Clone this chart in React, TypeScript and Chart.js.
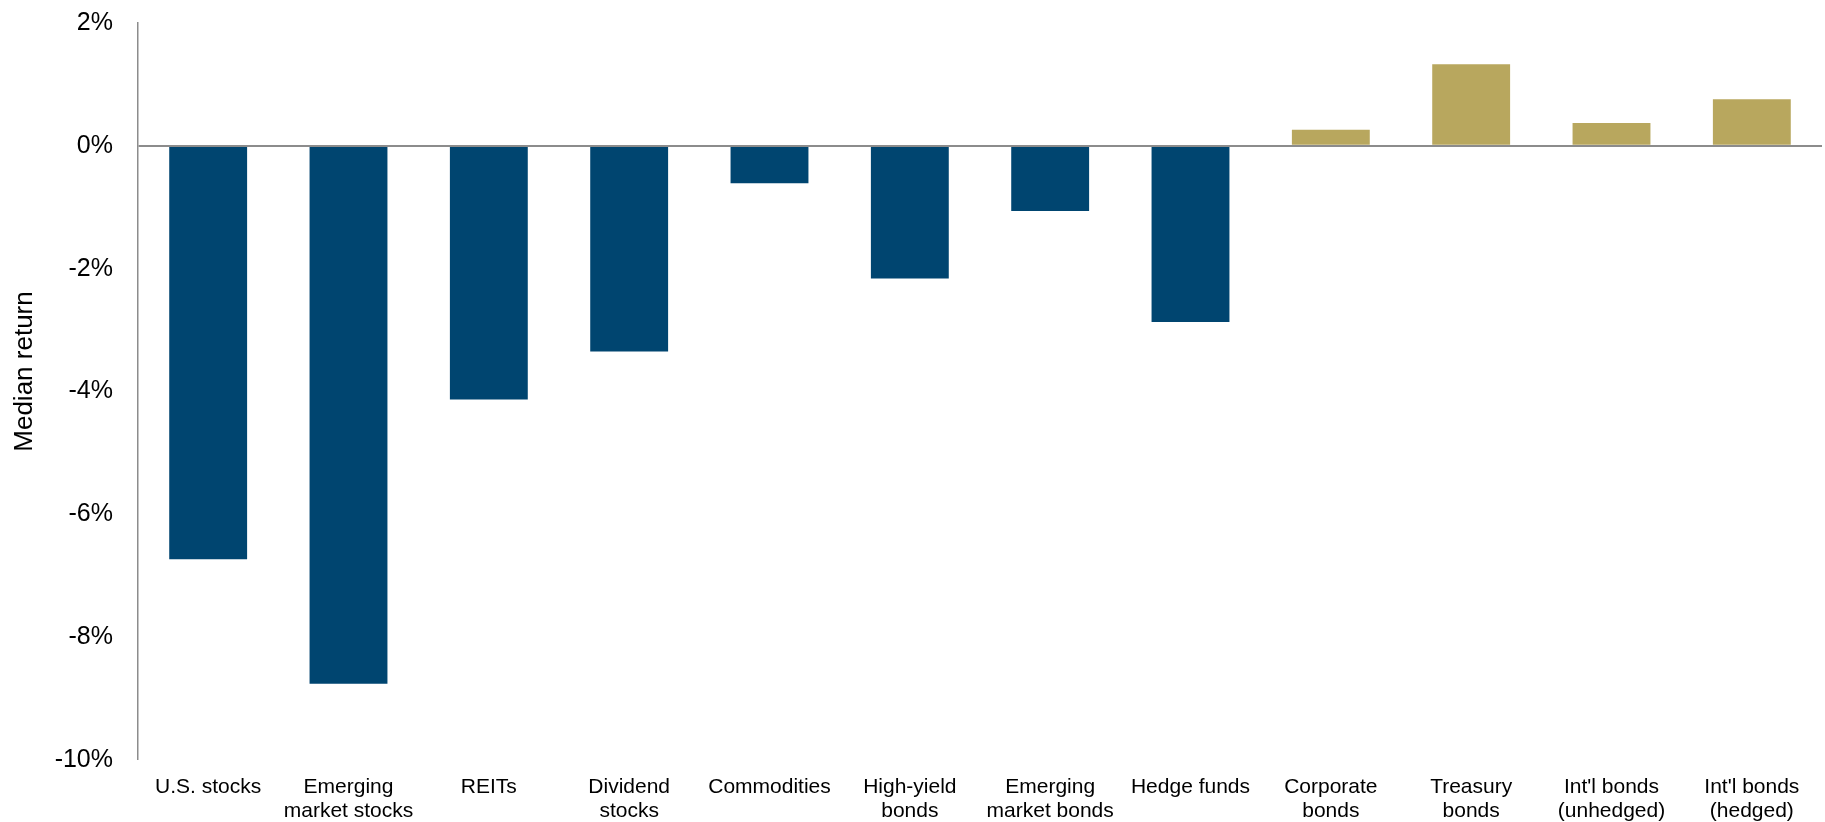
import React, { useEffect, useRef } from "react";
import { Chart, registerables } from "chart.js";

Chart.register(...registerables);

const categories: (string | string[])[] = [
  "U.S. stocks",
  ["Emerging", "market stocks"],
  "REITs",
  ["Dividend", "stocks"],
  "Commodities",
  ["High-yield", "bonds"],
  ["Emerging", "market bonds"],
  "Hedge funds",
  ["Corporate", "bonds"],
  ["Treasury", "bonds"],
  ["Int'l bonds", "(unhedged)"],
  ["Int'l bonds", "(hedged)"],
];

const medianReturns: number[] = [
  -6.73, -8.76, -4.13, -3.35, -0.61, -2.16, -1.06, -2.87, 0.26, 1.33, 0.37, 0.76,
];

const yTicks: number[] = [-10, -8, -6, -4, -2, 0, 2];

const yAxisTitle = "Median return";

const NAVY = "#004570";
const GOLD = "#B8A75E";
const FONT = "'Liberation Sans', Arial, sans-serif";

const yTitlePlugin = {
  id: "yTitlePlugin",
  afterDraw(chart: any) {
    const { ctx, chartArea } = chart;
    ctx.save();
    ctx.font = `26px ${FONT}`;
    ctx.fillStyle = "#000";
    ctx.textAlign = "center";
    ctx.textBaseline = "middle";
    const cy = (chartArea.top + chartArea.bottom) / 2 - 20;
    ctx.translate(25, cy);
    ctx.rotate(-Math.PI / 2);
    ctx.fillText(yAxisTitle, 0, 0);
    ctx.restore();
  },
};

export default function App() {
  const ref = useRef<HTMLCanvasElement | null>(null);

  useEffect(() => {
    document.body.style.margin = "0";
    const ctx = ref.current!;
    const chart = new Chart(ctx, {
      type: "bar",
      data: {
        labels: categories,
        datasets: [
          {
            label: yAxisTitle,
            data: medianReturns,
            backgroundColor: medianReturns.map((v) => (v < 0 ? NAVY : GOLD)),
            borderWidth: 0,
            categoryPercentage: 1,
            barPercentage: 0.555,
          },
        ],
      },
      plugins: [yTitlePlugin],
      options: {
        responsive: false,
        animation: false,
        maintainAspectRatio: false,
        layout: { padding: { top: 23, right: 3, left: 0, bottom: 0 } },
        plugins: {
          legend: { display: false },
          tooltip: { enabled: false },
        },
        scales: {
          x: {
            grid: { display: false, drawTicks: false },
            border: { display: false },
            ticks: {
              color: "#000",
              font: { family: FONT, size: 21, lineHeight: 1.14 },
              padding: 15,
              maxRotation: 0,
              autoSkip: false,
            },
            afterFit: (scale: any) => {
              scale.height = 62;
            },
          },
          y: {
            min: Math.min(...yTicks),
            max: Math.max(...yTicks),
            afterBuildTicks: (scale: any) => {
              scale.ticks = yTicks.map((v) => ({ value: v }));
            },
            grid: {
              drawTicks: false,
              z: 1,
              lineWidth: (c: any) => (c.tick && c.tick.value === 0 ? 2 : 0),
              color: (c: any) => (c.tick && c.tick.value === 0 ? "#8c8c8c" : "rgba(0,0,0,0)"),
            },
            border: { display: true, color: "#8c8c8c", width: 1.5, z: 2 },
            ticks: {
              color: "#000",
              font: { family: FONT, size: 25 },
              padding: 25,
              callback: (v: any) => `${v}%`,
            },
            title: { display: false },
            afterFit: (scale: any) => {
              scale.width = 138;
              scale.paddingTop = 0;
              scale.paddingBottom = 0;
            },
          },
        },
      },
    });
    return () => chart.destroy();
  }, []);

  return (
    <div style={{ position: "absolute", left: 0, top: 0, width: 1825, height: 822, background: "#fff" }}>
      <canvas ref={ref} width={1825} height={822} style={{ width: 1825, height: 822 }} />
    </div>
  );
}
